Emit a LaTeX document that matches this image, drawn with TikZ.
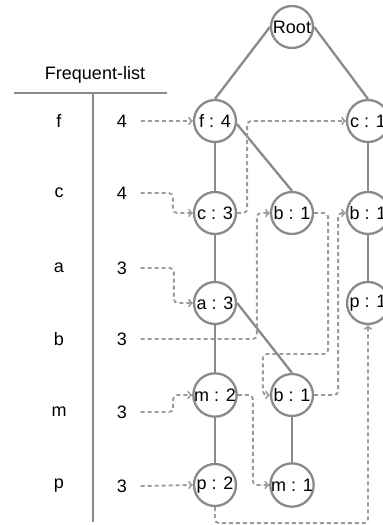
\documentclass[tikz,border=0pt]{standalone}
\usepackage{fontspec}
\setmainfont{Liberation Sans}
\usepackage{tikz}
\usetikzlibrary{arrows,positioning}
\definecolor{treegray}{RGB}{138,138,138}
\definecolor{linkgray}{RGB}{155,155,155}

\begin{document}
\begin{tikzpicture}[x=1pt,y=-1pt,node distance=77pt,
font=\fontsize{18}{21}\selectfont,
item/.style={
circle,
draw=treegray,
line width=2.3pt,
fill=white,
minimum size=42pt,
inner sep=0pt
},
tree/.style={draw=treegray,line width=2.3pt},
link/.style={->,>=to,draw=linkgray,line width=1.9pt,dash pattern=on 4pt off 3pt,rounded corners=4pt},
]
\useasboundingbox (0,0) rectangle (383,525);

% header table
\node (title) at (95,75) {Frequent-list};
\draw[tree] (14,93) -- (167,93);
\draw[tree] (93,93) -- (93,522);
\foreach \name/\cnt/\y in {f/4/121,c/4/193,a/3/268,b/3/339,m/3/412,p/3/486}{
\node (h\name) at (59,\y) {\name};
\node (n\name) at (122,\y) {\cnt};
}

% the tree
\node (root) [item] at (292,27) {Root};
\node (f4) [item] at (215,121) {f : 4};
\node (c1) [item] at (368,121) {c : 1};
\node (c3) [item,below of=f4,node distance=92pt] {c : 3};
\node (b1a) [item,right of=c3] {b : 1};
\node (b1c) [item,below of=c1,node distance=92pt] {b : 1};
\node (a3) [item,below of=c3,node distance=90pt] {a : 3};
\node (p1) [item,below of=b1c,node distance=90pt] {p : 1};
\node (m2) [item,below of=a3,node distance=92pt] {m : 2};
\node (b1b) [item,right of=m2] {b : 1};
\node (p2) [item,below of=m2,node distance=90pt] {p : 2};
\node (m1) [item,below of=b1b,node distance=90pt] {m : 1};

\draw[tree] (root.west) -- (f4.north);
\draw[tree] (root.east) -- (c1.north);
\draw[tree] (f4) -- (c3) -- (a3) -- (m2) -- (p2);
\draw[tree] (f4.-8) -- (b1a.north);
\draw[tree] (a3.east) -- (b1b.north);
\draw[tree] (b1b) -- (m1);
\draw[tree] (c1) -- (b1c) -- (p1);

% header links
\draw[link] ([xshift=10pt]nf.east) -- (f4.west);
\draw[link] ([xshift=10pt]nc.east) -| ([xshift=-20pt]c3.west) -- (c3.west);
\draw[link] ([xshift=10pt]na.east) -| ([xshift=-19pt]a3.west) -- (a3.west);
\draw[link] ([xshift=10pt]nb.east) -| ([xshift=-13pt]b1a.west) -- (b1a.west);
\draw[link] ([xshift=10pt]nm.east) -| ([xshift=-19pt]m2.west) -- (m2.west);
\draw[link] ([xshift=10pt]np.east) -- (p2.west);

% node links
\draw[link] (c3.east) -- ++(10,0) |- (c1.west);
\draw[link] (b1a.east) -- ++(14,0) -- ++(0,141) -| ([xshift=-7pt]b1b.west) -- (b1b.west);
\draw[link] (b1b.east) -- ++(24,0) |- (b1c.west);
\draw[link] (m2.east) -- ++(15,0) |- (m1.west);
\draw[link] (p2.south) -- ++(0,16) -| (p1.south);
\end{tikzpicture}
\end{document}
